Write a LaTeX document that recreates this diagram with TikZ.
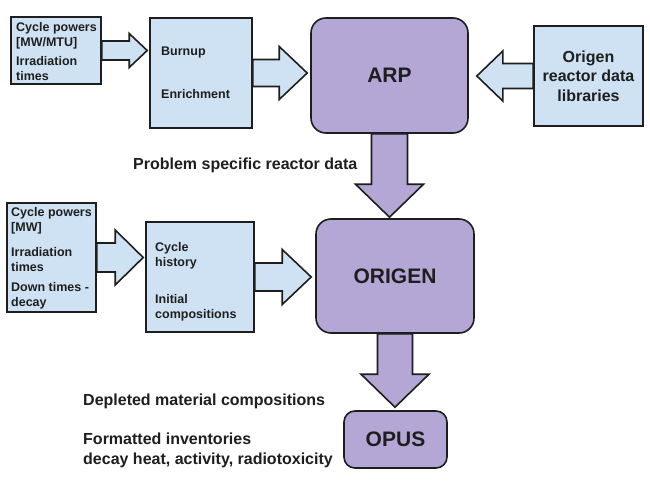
\documentclass[tikz,border=0pt]{standalone}
\usepackage{fontspec}
\setmainfont{Liberation Sans}
\usetikzlibrary{calc}
\definecolor{lblue}{HTML}{CFE2F3}
\definecolor{lpurp}{HTML}{B4A7D6}
\definecolor{edgec}{HTML}{1E1E1E}
% horizontal block arrow: style, start, tip, shaft half, head half, head length (signed)
\newcommand\harrow[6]{%
  \draw[#1] let \p1=(#2), \p2=(#3) in
    ({\x1},{\y1+#4}) -- ({\x2-(#6)},{\y1+#4}) -- ({\x2-(#6)},{\y1+#5}) -- ({\x2},{\y1})
    -- ({\x2-(#6)},{\y1-#5}) -- ({\x2-(#6)},{\y1-#4}) -- ({\x1},{\y1-#4}) -- cycle;}
% vertical (downward) block arrow
\newcommand\varrow[6]{%
  \draw[#1] let \p1=(#2), \p2=(#3) in
    ({\x1-#4},{\y1}) -- ({\x1-#4},{\y2+#6}) -- ({\x1-#5},{\y2+#6}) -- ({\x1},{\y2})
    -- ({\x1+#5},{\y2+#6}) -- ({\x1+#4},{\y2+#6}) -- ({\x1+#4},{\y1}) -- cycle;}
\begin{document}
\begin{tikzpicture}[x=1pt,y=-1pt,
  inbox/.style={draw=edgec, fill=lblue, line width=1.6pt, rectangle, inner sep=0pt},
  prog/.style={draw=edgec, fill=lpurp, line width=1.6pt, rounded corners=15pt, inner sep=0pt,
    font=\fontsize{21}{24}\selectfont\bfseries, text=edgec},
  boxtext/.style={anchor=west, align=left, inner sep=0pt, font=\fontsize{12.5}{15}\selectfont\bfseries, text=edgec},
  captext/.style={anchor=west, align=left, inner sep=0pt, font=\fontsize{16}{20}\selectfont\bfseries, text=edgec},
  bluearrow/.style={draw=edgec, fill=lblue, line width=1.6pt, line join=miter},
  purparrow/.style={draw=edgec, fill=lpurp, line width=1.6pt, line join=miter}]
\useasboundingbox (0,0) rectangle (650,487);
\fill[white] (0,0) rectangle (650,487);

% boxes
\node[inbox, minimum width=90pt, minimum height=67pt] (b1) at (56,50.5) {};
\node[inbox, minimum width=102pt, minimum height=110pt] (b2) at (201,73) {};
\node[prog, minimum width=157pt, minimum height=115pt] (arp) at (389.5,75.5) {ARP};
\node[inbox, minimum width=109pt, minimum height=100pt, align=center,
  font=\fontsize{16}{19.5}\selectfont\bfseries, text=edgec] (libs) at (588.5,76)
  {Origen\\reactor data\\libraries};
\node[prog, minimum width=158pt, minimum height=114pt] (orig) at (395,276) {ORIGEN};
\node[prog, rounded corners=11pt, minimum width=103pt, minimum height=57pt] (opus) at (395.5,439.5) {OPUS};
\node[inbox, minimum width=89pt, minimum height=109pt] (b3) at (51.5,257.5) {};
\node[inbox, minimum width=108pt, minimum height=110pt] (b4) at (200,277) {};

% box texts
\node[boxtext] (t1a) at (16,35.5) {Cycle powers\\{[MW/MTU]}};
\node[boxtext] (t1b) at (16,68.5) {Irradiation\\times};
\node[boxtext] (t2a) at (161,52) {Burnup};
\node[boxtext] (t2b) at (161,94) {Enrichment};
\node[boxtext] (t3a) at (11,220.5) {Cycle powers\\{[MW]}};
\node[boxtext] (t3b) at (11,259.5) {Irradiation\\times};
\node[boxtext] (t3c) at (11,295.5) {Down times -\\decay};
\node[boxtext] (t4a) at (155,255.5) {Cycle\\history};
\node[boxtext] (t4b) at (155,308) {Initial\\compositions};

% captions
\node[captext] (c1) at (133,165) {Problem specific reactor data};
\node[captext] (c2) at (83,401) {Depleted material compositions};
\node[captext] (c3) at (83,450) {Formatted inventories\\decay heat, activity, radiotoxicity};

% block arrows
\harrow{bluearrow}{b1.east}{$(b2.west)+(-2,0)$}{9.5pt}{17pt}{18pt}
\harrow{bluearrow}{b2.east}{$(arp.west)+(-3,0)$}{13.5pt}{26.5pt}{28pt}
\harrow{bluearrow}{libs.west}{$(arp.east)+(8,0)$}{12.5pt}{25pt}{-26pt}
\harrow{bluearrow}{b3.east}{$(b4.west)+(-2,0)$}{14.5pt}{27.5pt}{28pt}
\harrow{bluearrow}{b4.east}{$(orig.west)+(-4,0)$}{14pt}{27.5pt}{29pt}
\varrow{purparrow}{arp.south}{$(orig.north)+(0,-1)$}{18pt}{34pt}{33pt}
\varrow{purparrow}{orig.south}{$(opus.north)+(0,-3)$}{17.5pt}{34pt}{33pt}
\end{tikzpicture}
\end{document}
